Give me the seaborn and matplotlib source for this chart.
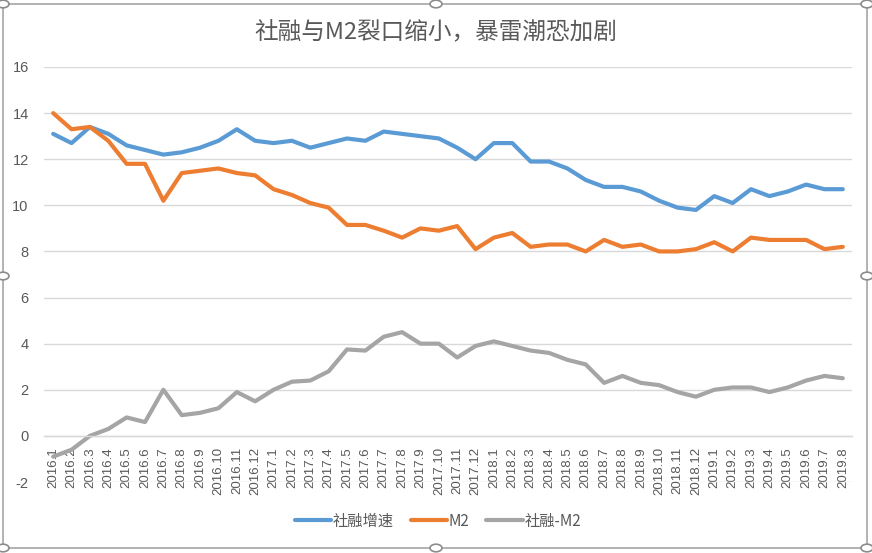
import matplotlib
matplotlib.use("Agg")
import matplotlib.pyplot as plt
import seaborn as sns
import pandas as pd
from matplotlib.patches import Rectangle, Circle

months = ["2016.1","2016.2","2016.3","2016.4","2016.5","2016.6","2016.7","2016.8","2016.9","2016.10","2016.11","2016.12",
          "2017.1","2017.2","2017.3","2017.4","2017.5","2017.6","2017.7","2017.8","2017.9","2017.10","2017.11","2017.12",
          "2018.1","2018.2","2018.3","2018.4","2018.5","2018.6","2018.7","2018.8","2018.9","2018.10","2018.11","2018.12",
          "2019.1","2019.2","2019.3","2019.4","2019.5","2019.6","2019.7","2019.8"]

tsf_growth = [13.1,12.7,13.4,13.1,12.6,12.4,12.2,12.3,12.5,12.8,13.3,12.8,
              12.7,12.8,12.5,12.7,12.9,12.8,13.2,13.1,13.0,12.9,12.5,12.0,
              12.7,12.7,11.9,11.9,11.6,11.1,10.8,10.8,10.6,10.2,9.9,9.8,
              10.4,10.1,10.7,10.4,10.6,10.9,10.7,10.7]

m2 = [14.0,13.3,13.4,12.8,11.8,11.8,10.2,11.4,11.5,11.6,11.4,11.3,
      10.7,10.45,10.1,9.9,9.15,9.15,8.9,8.6,9.0,8.9,9.1,8.1,
      8.6,8.8,8.2,8.3,8.3,8.0,8.5,8.2,8.3,8.0,8.0,8.1,
      8.4,8.0,8.6,8.5,8.5,8.5,8.1,8.2]

gap = [-0.9,-0.6,0.0,0.3,0.8,0.6,2.0,0.9,1.0,1.2,1.9,1.5,
       2.0,2.35,2.4,2.8,3.75,3.7,4.3,4.5,4.0,4.0,3.4,3.9,
       4.1,3.9,3.7,3.6,3.3,3.1,2.3,2.6,2.3,2.2,1.9,1.7,
       2.0,2.1,2.1,1.9,2.1,2.4,2.6,2.5]

series_names = ["社融增速", "M2", "社融-M2"]
colors = ["#5B9BD5", "#ED7D31", "#A5A5A5"]
y_ticks = [-2, 0, 2, 4, 6, 8, 10, 12, 14, 16]
title = "社融与M2裂口缩小，暴雷潮恐加剧"

sns.set_theme(style="white")
plt.rcParams["font.family"] = ["Liberation Sans", "Noto Sans CJK SC", "DejaVu Sans"]

df = pd.DataFrame({"month": months * 3,
                   "idx": list(range(len(months))) * 3,
                   "value": tsf_growth + m2 + gap,
                   "series": [series_names[0]] * len(months) + [series_names[1]] * len(months) + [series_names[2]] * len(months)})

W, H = 872, 553
fig = plt.figure(figsize=(W / 100, H / 100), dpi=100)
ax = fig.add_axes([44 / W, 1 - 482 / H, (852 - 44) / W, (482 - 67) / H])

sns.lineplot(data=df, x="idx", y="value", hue="series", hue_order=series_names,
             palette=colors, linewidth=3.0, ax=ax, legend=True, sort=False)

ax.set_xlim(-0.5, len(months) - 0.5)
ax.set_ylim(-2, 16)
ax.set_yticks(y_ticks)
ax.set_yticklabels([str(v) for v in y_ticks])
ax.grid(axis="y", color="#D9D9D9", linewidth=1.0)
ax.set_axisbelow(True)
for s in ["left", "right", "top"]:
    ax.spines[s].set_visible(False)
ax.spines["bottom"].set_position(("data", 0))
ax.spines["bottom"].set_color("#D9D9D9")
ax.spines["bottom"].set_linewidth(1.0)
ax.set_xticks(range(len(months)))
ax.set_xticklabels(months, rotation=90, va="top", ha="center")
ax.tick_params(axis="x", length=0, pad=8, labelsize=9.5, labelcolor="#595959")
ax.tick_params(axis="y", length=0, pad=11, labelsize=10.5, labelcolor="#595959")
ax.set_xlabel("")
ax.set_ylabel("")

ax.set_title("")
fig.text(436 / W, 1 - 33 / H, title, ha="center", va="center", fontsize=17,
         color="#595959", family=["Noto Sans CJK SC", "DejaVu Sans"])

leg = ax.legend(loc="center", bbox_to_anchor=(438 / W, 1 - 521 / H), bbox_transform=fig.transFigure,
                ncol=3, frameon=False, handlelength=2.4, columnspacing=1.1,
                handletextpad=0.1, prop={"family": ["Noto Sans CJK SC", "DejaVu Sans"], "size": 11})
for t in leg.get_texts():
    t.set_color("#595959")
for l in leg.get_lines():
    l.set_linewidth(3.0)

# chart border with selection handles
fig.patches.append(Rectangle((3 / W, 1 - 548 / H), (867 - 3) / W, (548 - 4) / H, transform=fig.transFigure,
                             fill=False, edgecolor="#A6A6A6", linewidth=1.2))
for (cx, cy) in [(3, 4), (436, 4), (867, 4), (3, 276), (867, 276), (3, 548), (436, 548), (867, 548)]:
    fig.patches.append(Circle((cx / W, 1 - cy / H), 6 / W, transform=fig.transFigure,
                              facecolor="white", edgecolor="#8C8C8C", linewidth=1.2))

fig.savefig("out.png", dpi=100)
